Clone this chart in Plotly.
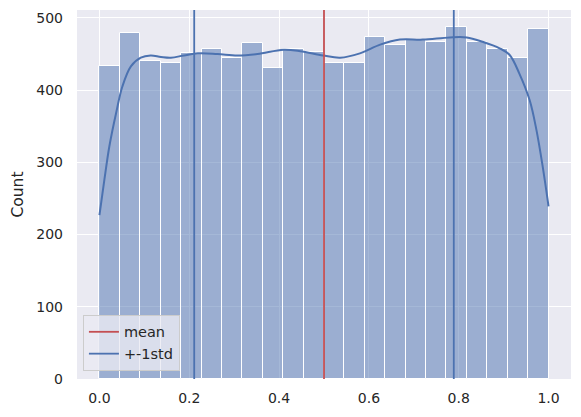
import plotly.graph_objects as go

# histogram: 22 equal bins spanning 0..1
BIN_COUNT = 22
BAR_COUNTS = [434, 479, 441, 437, 451, 457, 445, 465, 431, 457, 453,
              438, 437, 473, 463, 470, 467, 487, 467, 457, 444, 485]

# kde curve (scaled to counts)
KDE_X = [0.0, 0.011, 0.022, 0.037, 0.051, 0.070, 0.092, 0.114, 0.137, 0.159,
         0.188, 0.219, 0.263, 0.307, 0.352, 0.410, 0.447, 0.498, 0.536, 0.580,
         0.625, 0.669, 0.720, 0.780, 0.818, 0.853, 0.891, 0.913, 0.935, 0.958,
         0.973, 0.987, 1.0]
KDE_Y = [227, 276, 322, 368, 405, 433, 445, 448, 446, 445,
         448, 451, 450, 448, 450, 456, 454, 448, 445, 451,
         463, 470, 470, 473, 473, 467, 458, 449, 423, 386,
         345, 294, 239]

MEAN = 0.5
STD = 0.289

BLUE = "#4C72B0"
RED = "#C44E52"
Y_TOP = 511

width = 1.0 / BIN_COUNT
bin_centers = [width * (i + 0.5) for i in range(BIN_COUNT)]

fig = go.Figure()
fig.add_trace(go.Bar(
    x=bin_centers, y=BAR_COUNTS, width=width,
    marker=dict(color="rgba(76,114,176,0.5)", line=dict(color="white", width=1)),
    showlegend=False,
))
fig.add_trace(go.Scatter(
    x=KDE_X, y=KDE_Y, mode="lines", line=dict(color=BLUE, width=2, shape="spline"),
    showlegend=False,
))
fig.add_trace(go.Scatter(
    x=[MEAN, MEAN], y=[0, Y_TOP], mode="lines", name="mean",
    line=dict(color=RED, width=1.8),
))
fig.add_trace(go.Scatter(
    x=[MEAN - STD, MEAN - STD, None, MEAN + STD, MEAN + STD],
    y=[0, Y_TOP, None, 0, Y_TOP], mode="lines", name="+-1std",
    line=dict(color=BLUE, width=1.8),
))

axis_font = dict(family="DejaVu Sans", size=14, color="#262626")
fig.update_layout(
    width=581, height=417,
    margin=dict(l=77, r=10, t=10, b=38),
    paper_bgcolor="white",
    plot_bgcolor="#EAEAF2",
    bargap=0,
    font=axis_font,
    legend=dict(
        x=0.012, y=0.022, xanchor="left", yanchor="bottom",
        bgcolor="rgba(234,234,242,0.8)", bordercolor="#CCCCCC", borderwidth=1,
        font=dict(family="DejaVu Sans", size=14.5, color="#262626"),
        tracegroupgap=4,
    ),
)
fig.update_xaxes(
    range=[-0.05, 1.05], tickvals=[0, 0.2, 0.4, 0.6, 0.8, 1.0],
    ticktext=["0.0", "0.2", "0.4", "0.6", "0.8", "1.0"],
    showgrid=True, gridcolor="white", gridwidth=1, zeroline=False,
    showline=False, ticks="", tickfont=axis_font, automargin=False,
    ticklabelstandoff=9,
)
fig.update_yaxes(
    range=[0, Y_TOP], tickvals=[0, 100, 200, 300, 400, 500],
    showgrid=True, gridcolor="white", gridwidth=1, zeroline=False,
    showline=False, ticks="", tickfont=axis_font, automargin=False,
    ticklabelstandoff=13,
    title=dict(text="Count", font=dict(family="DejaVu Sans", size=15.5, color="#262626"), standoff=8),
)

fig.write_html(
    "out.html",
    config={"displayModeBar": False},
    post_script="document.body.style.margin='0';",
)
